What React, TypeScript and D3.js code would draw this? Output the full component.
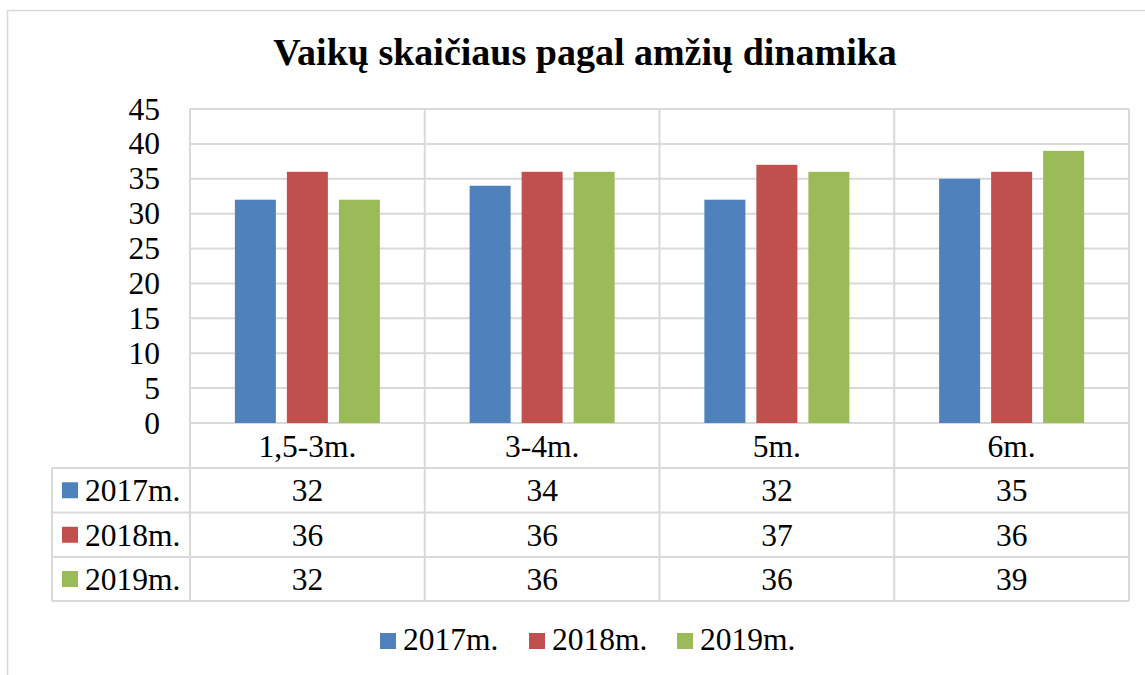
import React from "react";
import * as d3 from "d3";

const categories = ["1,5-3m.", "3-4m.", "5m.", "6m."];
const seriesNames = ["2017m.", "2018m.", "2019m."];
const values2017 = [32, 34, 32, 35];
const values2018 = [36, 36, 37, 36];
const values2019 = [32, 36, 36, 39];
const seriesColors = ["#4F81BD", "#C0504D", "#9BBB59"];
const yTicks = [0, 5, 10, 15, 20, 25, 30, 35, 40, 45];

const seriesValues = [values2017, values2018, values2019];

export default function App() {
  const W = 1145;
  const H = 675;
  const plotLeft = 190;
  const plotRight = 1129;
  const plotTop = 109;
  const zeroY = 423;
  const tableLeft = 52;
  const rowLines = [468, 512.5, 557, 601];
  const grid = "#d9d9d9";
  const font = "'Liberation Serif', serif";
  const fs = 31.5;

  const x = d3.scaleBand<string>().domain(categories).range([plotLeft, plotRight]).padding(0);
  const cw = x.bandwidth();
  const inner = d3
    .scaleBand<string>()
    .domain(seriesNames)
    .range([0, cw])
    .paddingInner(11 / 52)
    .paddingOuter(0.863);
  const y = d3.scaleLinear().domain([0, 45]).range([zeroY, plotTop]);

  return (
    <svg
      width={W}
      height={H}
      style={{ position: "absolute", left: 0, top: 0, background: "#fff" }}
    >
      <rect x={0} y={0} width={W} height={H} fill="#fff" />
      <rect x={7.5} y={10.5} width={W + 20} height={H + 20} fill="none" stroke={grid} strokeWidth={1.5} />
      <text
        x={585}
        y={65}
        textAnchor="middle"
        fontFamily={font}
        fontWeight="bold"
        fontSize={38}
        fill="#000"
      >
        Vaikų skaičiaus pagal amžių dinamika
      </text>

      {yTicks.map((t) => (
        <line key={"g" + t} x1={plotLeft} x2={plotRight} y1={y(t)} y2={y(t)} stroke={grid} strokeWidth={2} />
      ))}
      {[...categories.map((c) => x(c)!), plotRight].map((xv, i) => (
        <line key={"v" + i} x1={xv} x2={xv} y1={plotTop} y2={rowLines[3]} stroke={grid} strokeWidth={2} />
      ))}
      {rowLines.map((ry, i) => (
        <line key={"r" + i} x1={tableLeft} x2={plotRight} y1={ry} y2={ry} stroke={grid} strokeWidth={2} />
      ))}
      <line x1={tableLeft} x2={tableLeft} y1={rowLines[0]} y2={rowLines[3]} stroke={grid} strokeWidth={2} />

      {yTicks.map((t) => (
        <text
          key={"t" + t}
          x={160}
          y={y(t) + 10.5}
          textAnchor="end"
          fontFamily={font}
          fontSize={fs}
          fill="#000"
        >
          {t}
        </text>
      ))}

      {seriesValues.map((vals, si) =>
        vals.map((v, ci) => (
          <rect
            key={"b" + si + "-" + ci}
            x={x(categories[ci])! + inner(seriesNames[si])!}
            y={y(v)}
            width={inner.bandwidth()}
            height={zeroY - y(v)}
            fill={seriesColors[si]}
          />
        ))
      )}

      {categories.map((c) => (
        <text
          key={"c" + c}
          x={x(c)! + cw / 2}
          y={(zeroY + rowLines[0]) / 2 + 11.5}
          textAnchor="middle"
          fontFamily={font}
          fontSize={fs}
          fill="#000"
        >
          {c}
        </text>
      ))}

      {seriesNames.map((s, si) => {
        const top = rowLines[si];
        const bottom = rowLines[si + 1];
        const cy = (top + bottom) / 2;
        return (
          <g key={"row" + s}>
            <rect x={62} y={cy - 8} width={16} height={16} fill={seriesColors[si]} />
            <text x={85} y={cy + 11} fontFamily={font} fontSize={fs} fill="#000">
              {s}
            </text>
            {seriesValues[si].map((v, ci) => (
              <text
                key={"d" + ci}
                x={x(categories[ci])! + cw / 2}
                y={cy + 11}
                textAnchor="middle"
                fontFamily={font}
                fontSize={fs}
                fill="#000"
              >
                {v}
              </text>
            ))}
          </g>
        );
      })}

      {seriesNames.map((s, si) => {
        const lx = [380, 529, 677][si];
        return (
          <g key={"l" + s}>
            <rect x={lx} y={633} width={16} height={16} fill={seriesColors[si]} />
            <text x={lx + 23} y={650} fontFamily={font} fontSize={fs} fill="#000">
              {s}
            </text>
          </g>
        );
      })}
    </svg>
  );
}
